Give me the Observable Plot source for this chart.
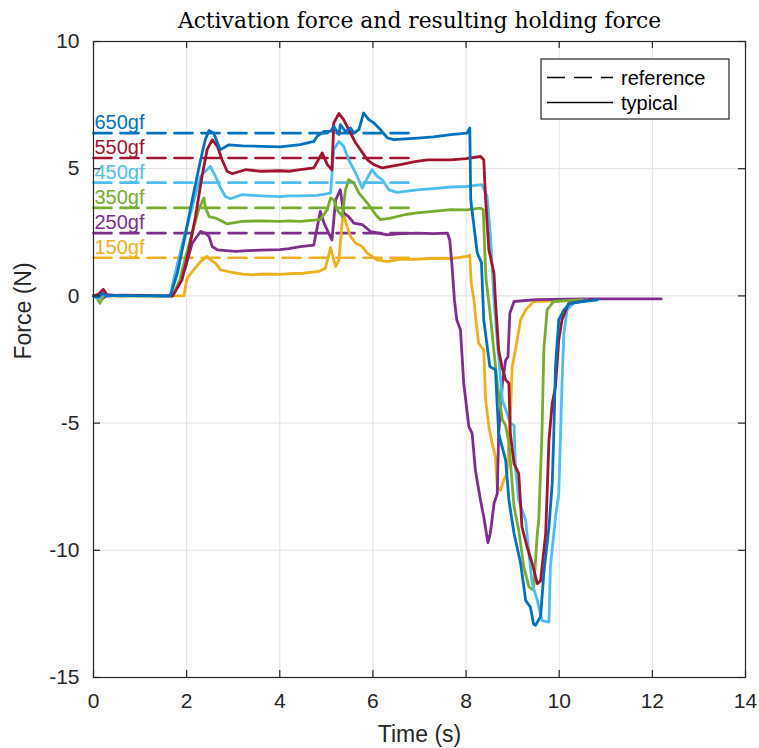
<!DOCTYPE html>
<html><head><meta charset="utf-8">
<script src="https://cdn.jsdelivr.net/npm/d3@7"></script>
<script src="https://cdn.jsdelivr.net/npm/@observablehq/plot@0.6"></script>
<style>body{margin:0;background:#fff;}</style>
</head><body><div id="chart"></div>
<script>
const chartTitle = "Activation force and resulting holding force";
const xLabel = "Time (s)";
const yLabel = "Force (N)";
const seriesNames = ["150gf", "250gf", "350gf", "450gf", "550gf", "650gf"];
const seriesColors = ["#EDB120", "#7E2F8E", "#77AC30", "#4DBEEE", "#A2142F", "#0072BD"];
const referenceForce = [1.5, 2.47, 3.46, 4.45, 5.42, 6.4];
const referenceSpan = [0, 6.95];
const xTicks = [0, 2, 4, 6, 8, 10, 12, 14];
const yTicks = [-15, -10, -5, 0, 5, 10];
const legendLabels = ["reference", "typical"];

// [time (s), force (N)]
const force150 = [[0,0],[0.1,-0.05],[0.3,0],[1,0],[1.94,0],[2.01,0.7],[2.15,1.02],[2.3,1.35],[2.44,1.55],[2.51,1.42],[2.62,1.29],[2.73,1.02],[2.98,0.92],[3.2,0.86],[3.41,0.83],[3.7,0.86],[4,0.85],[4.3,0.88],[4.5,0.89],[4.84,0.96],[4.98,1.09],[5.09,1.9],[5.2,1.15],[5.27,1.42],[5.36,3.3],[5.42,2.86],[5.52,2.34],[5.63,2.07],[5.77,1.94],[5.88,1.68],[6.09,1.42],[6.31,1.35],[6.59,1.45],[6.9,1.44],[7.31,1.48],[7.7,1.47],[8.02,1.55],[8.08,1.6],[8.11,0.5],[8.17,-0.16],[8.21,-0.94],[8.27,-1.86],[8.38,-2.13],[8.42,-4.09],[8.49,-5.14],[8.56,-5.8],[8.63,-6.33],[8.67,-7.51],[8.74,-7.64],[8.81,-7.24],[8.88,-6.98],[8.95,-4.75],[8.99,-2.78],[9.06,-2.13],[9.11,-1.6],[9.17,-0.94],[9.28,-0.55],[9.45,-0.22],[10.8,-0.15]];
const force250 = [[0,0],[0.1,0.05],[0.2,-0.1],[0.3,0.05],[0.6,0],[1,0.02],[1.7,0],[1.85,0.5],[1.98,1.15],[2.12,2.07],[2.3,2.53],[2.4,2.47],[2.48,2.34],[2.55,1.94],[2.66,1.81],[3.05,1.75],[3.3,1.78],[3.6,1.8],[4,1.82],[4.2,1.86],[4.44,1.94],[4.73,2.0],[4.87,3.32],[4.95,2.86],[5.05,2.47],[5.12,2.2],[5.2,3.78],[5.3,4.17],[5.37,3.26],[5.48,3.12],[5.59,2.86],[5.77,2.8],[5.95,2.53],[6.31,2.4],[6.6,2.45],[6.95,2.47],[7.3,2.45],[7.6,2.47],[7.65,2.2],[7.7,1.15],[7.75,-0.16],[7.8,-0.94],[7.88,-1.34],[7.95,-3.44],[8.06,-5.14],[8.13,-5.4],[8.2,-6.85],[8.31,-8.03],[8.38,-8.69],[8.47,-9.7],[8.52,-9.34],[8.6,-8.16],[8.67,-7.77],[8.7,-5.4],[8.78,-3.44],[8.85,-2.52],[8.9,-2.4],[8.94,-0.68],[9.03,-0.22],[9.5,-0.15],[10.5,-0.12],[12.19,-0.12]];
const force350 = [[0,0],[0.08,-0.1],[0.14,-0.29],[0.22,0.05],[0.5,0],[1,0],[1.7,0],[1.85,0.6],[1.98,1.55],[2.12,2.47],[2.26,3.39],[2.37,3.85],[2.4,3.49],[2.48,3.12],[2.62,3.06],[2.76,2.93],[2.87,2.83],[3.19,2.93],[3.6,2.95],[4,2.93],[4.2,2.95],[4.44,2.93],[4.87,3.0],[5.02,3.39],[5.09,3.85],[5.16,3.78],[5.23,3.39],[5.34,3.12],[5.41,4.17],[5.48,4.57],[5.59,4.44],[5.7,4.04],[5.88,3.65],[6.06,3.19],[6.16,3.0],[6.38,3.06],[6.7,3.2],[6.95,3.26],[7.3,3.32],[7.67,3.39],[8.0,3.38],[8.31,3.45],[8.37,3.39],[8.4,1.81],[8.43,0.63],[8.5,-0.42],[8.53,-0.94],[8.67,-3.44],[8.78,-4.88],[8.85,-5.09],[8.92,-5.8],[9.03,-8.29],[9.13,-9.21],[9.24,-10.66],[9.35,-11.44],[9.45,-11.57],[9.53,-9.34],[9.56,-8.82],[9.63,-5.4],[9.67,-2.13],[9.74,-0.55],[9.88,-0.22],[10.5,-0.15]];
const force450 = [[0,0],[0.1,-0.1],[0.2,0.05],[0.5,0],[1,0.02],[1.65,0],[1.72,0.63],[1.9,2.0],[2.12,3.52],[2.3,4.7],[2.4,4.9],[2.51,5.09],[2.62,4.7],[2.73,4.24],[2.83,3.91],[2.94,3.82],[3.19,3.98],[3.6,3.93],[4,3.9],[4.2,3.93],[4.44,3.93],[4.8,3.95],[5.09,4.04],[5.16,5.75],[5.27,6.07],[5.37,5.88],[5.48,5.35],[5.63,4.83],[5.77,4.24],[5.88,4.63],[5.98,4.96],[6.09,4.7],[6.2,4.57],[6.34,4.17],[6.52,4.07],[6.95,4.17],[7.3,4.22],[7.67,4.28],[8.0,4.3],[8.34,4.37],[8.45,3.93],[8.52,2.47],[8.56,1.15],[8.6,-0.16],[8.68,-2.0],[8.78,-4.09],[8.95,-5.0],[9.03,-5.09],[9.06,-6.72],[9.13,-8.03],[9.28,-8.82],[9.35,-10.13],[9.42,-11.31],[9.53,-11.97],[9.63,-12.76],[9.78,-12.82],[9.81,-10.66],[9.92,-8.69],[9.99,-7.77],[10.03,-5.4],[10.06,-3.44],[10.1,-1.47],[10.17,-0.55],[10.31,-0.28],[10.6,-0.15]];
const force550 = [[0,0],[0.1,0.05],[0.21,0.26],[0.3,0],[0.6,0.03],[1,0.02],[1.4,0],[1.7,0],[1.9,0.63],[2.05,1.81],[2.19,3.12],[2.33,4.7],[2.44,5.75],[2.55,6.14],[2.66,5.88],[2.76,5.35],[2.87,4.9],[2.98,4.8],[3.26,4.96],[3.6,4.9],[4,4.92],[4.2,4.9],[4.44,4.96],[4.73,5.03],[4.91,5.62],[5.02,5.16],[5.12,4.96],[5.16,6.8],[5.27,7.17],[5.37,6.93],[5.52,6.4],[5.63,6.01],[5.73,5.75],[5.88,5.35],[6.02,5.16],[6.2,5.03],[6.59,5.16],[6.9,5.28],[7.17,5.35],[7.67,5.35],[8.0,5.4],[8.31,5.48],[8.38,5.35],[8.42,3.78],[8.49,1.81],[8.6,0.89],[8.63,-0.16],[8.7,-2.13],[8.77,-2.78],[8.85,-3.3],[8.92,-3.44],[8.95,-5.4],[9.03,-6.59],[9.13,-6.98],[9.2,-9.08],[9.31,-9.87],[9.42,-10.52],[9.53,-11.31],[9.6,-11.2],[9.71,-9.34],[9.78,-5.67],[9.85,-4.22],[9.92,-3.57],[9.99,-1.73],[10.06,-0.94],[10.2,-0.3],[10.7,-0.15]];
const force650 = [[0,0],[0.1,-0.05],[0.2,0.1],[0.3,0],[0.6,0.02],[1,0],[1.4,0],[1.65,0],[1.8,0.89],[1.98,2.47],[2.12,3.78],[2.3,5.35],[2.4,6.14],[2.48,6.5],[2.58,6.4],[2.69,5.88],[2.73,5.75],[2.91,5.94],[3.2,5.9],[3.6,5.88],[4,5.86],[4.2,5.9],[4.44,5.95],[4.73,6.07],[4.8,6.27],[4.95,6.47],[5.09,6.47],[5.16,6.67],[5.27,6.34],[5.3,6.73],[5.41,6.47],[5.52,6.6],[5.59,6.4],[5.7,6.54],[5.8,7.19],[5.91,6.93],[6.02,6.8],[6.16,6.54],[6.31,6.21],[6.45,6.14],[6.95,6.2],[7.3,6.25],[7.67,6.34],[8.02,6.4],[8.08,6.6],[8.1,3.78],[8.24,1.69],[8.33,1.3],[8.38,-0.94],[8.51,-2.78],[8.63,-2.9],[8.7,-5.4],[8.85,-6.46],[8.92,-8.03],[9.03,-9.34],[9.17,-10.5],[9.28,-11.97],[9.38,-12.23],[9.45,-12.9],[9.49,-12.95],[9.6,-12.6],[9.67,-10.9],[9.78,-9.08],[9.85,-7.37],[9.88,-5.67],[9.92,-2.78],[9.99,-0.94],[10.1,-0.55],[10.24,-0.28],[10.82,-0.16]];

const seriesData = [force150, force250, force350, force450, force550, force650];

const rows = seriesData.flatMap((d, i) => d.map(([t, f]) => ({t, f, name: seriesNames[i]})));
const refRows = referenceForce.flatMap((f, i) => referenceSpan.map(t => ({t, f, name: seriesNames[i]})));
const labelRows = referenceForce.map((f, i) => ({t: referenceSpan[0], f, name: seriesNames[i]}));

const W = 759, H = 748, mL = 93, mR = 14, mT = 41, mB = 71;
const plotW = W - mL - mR, plotH = H - mT - mB;
const tickLen = 7;
const axisColor = "#262626";
const fontSans = "'Liberation Sans', Arial, Helvetica, sans-serif";

const chart = Plot.plot({
  width: W, height: H,
  marginLeft: mL, marginRight: mR, marginTop: mT, marginBottom: mB,
  style: {fontFamily: fontSans, background: "white", color: axisColor},
  x: {domain: [0, 14]},
  y: {domain: [-15, 10]},
  color: {domain: seriesNames, range: seriesColors},
  marks: [
    Plot.gridX({ticks: xTicks, stroke: "#e1e1e1", strokeOpacity: 1, strokeWidth: 1}),
    Plot.gridY({ticks: yTicks, stroke: "#e1e1e1", strokeOpacity: 1, strokeWidth: 1}),
    Plot.line(refRows, {x: "t", y: "f", z: "name", stroke: "name", strokeWidth: 2.7, strokeDasharray: "18,9"}),
    Plot.line(rows, {x: "t", y: "f", z: "name", stroke: "name", strokeWidth: 2.8, strokeLinejoin: "round", strokeLinecap: "round"}),
    Plot.text(labelRows, {x: "t", y: "f", text: "name", fill: "name", textAnchor: "start", lineAnchor: "bottom", dx: 1, dy: -4, fontSize: 20}),
    Plot.frame({stroke: axisColor, strokeWidth: 1.2}),
    Plot.tickX(xTicks, {x: d => d, insetTop: plotH - tickLen, stroke: axisColor, strokeWidth: 1.2}),
    Plot.tickX(xTicks, {x: d => d, insetBottom: plotH - tickLen, stroke: axisColor, strokeWidth: 1.2}),
    Plot.tickY(yTicks, {y: d => d, insetRight: plotW - tickLen, stroke: axisColor, strokeWidth: 1.2}),
    Plot.tickY(yTicks, {y: d => d, insetLeft: plotW - tickLen, stroke: axisColor, strokeWidth: 1.2}),
    Plot.axisX({ticks: xTicks, tickSize: 0, tickPadding: 16, fontSize: 21, label: null, tickFormat: d => String(d)}),
    Plot.axisY({ticks: yTicks, tickSize: 0, tickPadding: 14, fontSize: 21, label: null, tickFormat: d => String(d)}),
    Plot.text([xLabel], {frameAnchor: "bottom", dy: 64, lineAnchor: "bottom", fontSize: 23, fill: axisColor}),
    Plot.text([yLabel], {frameAnchor: "left", dx: -70, rotate: -90, lineAnchor: "middle", fontSize: 23, fill: axisColor}),
    Plot.text([chartTitle], {frameAnchor: "top", dy: -14, lineAnchor: "bottom", fontSize: 21.8, fontFamily: "'DejaVu Serif', serif", fill: "#000"})
  ]
});

// legend (box in the top-right corner of the axes)
const svg = d3.select(chart);
const lg = svg.append("g").attr("font-family", fontSans).attr("font-size", 20).attr("text-anchor", "start");
const boxX = W - mR - 204, boxY = mT + 18, boxW = 188, boxH = 60;
lg.append("rect").attr("x", boxX).attr("y", boxY).attr("width", boxW).attr("height", boxH)
  .attr("fill", "white").attr("stroke", axisColor).attr("stroke-width", 1.2);
legendLabels.forEach((lab, i) => {
  const yy = boxY + 18.5 + i * 25;
  lg.append("line").attr("x1", boxX + 6).attr("x2", boxX + 72).attr("y1", yy).attr("y2", yy)
    .attr("stroke", "#000").attr("stroke-width", 1.3)
    .attr("stroke-dasharray", i === 0 ? "18,9" : null);
  lg.append("text").attr("x", boxX + 80).attr("y", yy).attr("dy", "0.35em")
    .attr("text-anchor", "start").attr("fill", "#000").text(lab);
});

document.getElementById("chart").appendChild(chart);
</script>
</body></html>
